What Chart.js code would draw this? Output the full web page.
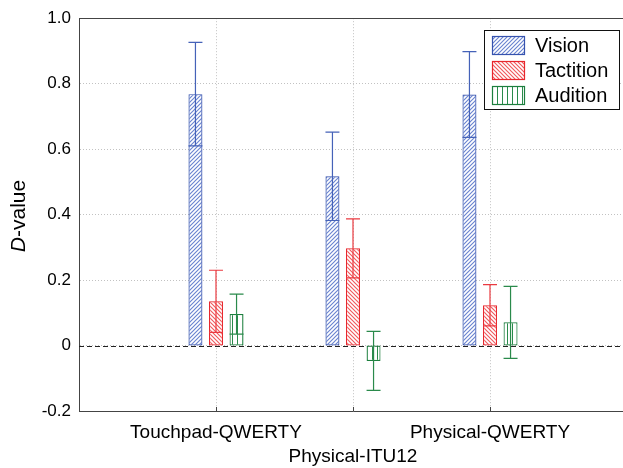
<!DOCTYPE html>
<html>
<head>
<meta charset="utf-8">
<script src="https://cdn.jsdelivr.net/npm/chart.js@4.4.1/dist/chart.umd.min.js"></script>
<style>
html,body{margin:0;padding:0;background:#fff;overflow:hidden;}
#c{display:block;}
</style>
</head>
<body>
<canvas id="c" width="627" height="468"></canvas>
<script>
// ---- data ----
const categories = ['Touchpad-QWERTY', 'Physical-ITU12', 'Physical-QWERTY'];
const seriesNames = ['Vision', 'Tactition', 'Audition'];
const visionValues = [0.768, 0.517, 0.767];
const visionErrors = [0.158, 0.135, 0.131];
const tactitionValues = [0.135, 0.297, 0.123];
const tactitionErrors = [0.095, 0.090, 0.063];
const auditionValues = [0.096, -0.047, 0.071];
const auditionErrors = [0.061, 0.090, 0.110];
const yTickLabels = ['-0.2', '0', '0.2', '0.4', '0.6', '0.8', '1.0'];

// ---- styles ----
function hatch(bg, color, dir, size, lw) {
  const c = document.createElement('canvas');
  c.width = size; c.height = size;
  const x = c.getContext('2d');
  x.fillStyle = bg; x.fillRect(0, 0, size, size);
  x.strokeStyle = color; x.lineWidth = lw; x.beginPath();
  if (dir === '/') {
    x.moveTo(0, size); x.lineTo(size, 0);
    x.moveTo(-1, 1); x.lineTo(1, -1);
    x.moveTo(size - 1, size + 1); x.lineTo(size + 1, size - 1);
  } else if (dir === '\\') {
    x.moveTo(0, 0); x.lineTo(size, size);
    x.moveTo(size - 1, -1); x.lineTo(size + 1, 1);
    x.moveTo(-1, size - 1); x.lineTo(1, size + 1);
  } else {
    x.moveTo(size / 2, 0); x.lineTo(size / 2, size);
  }
  x.stroke();
  return x.createPattern(c, 'repeat');
}
const styles = [
  {border: '#3552ae', err: '#4562b8', fill: hatch('#ffffff', '#6a84d0', '/', 4, 1.15)},
  {border: '#e8262c', err: '#ea3a40', fill: hatch('#ffffff', '#f05a5e', '\\', 4, 1.15)},
  {border: '#1d7f3e', err: '#2a8a4b', fill: hatch('#ffffff', '#2a8a4b', '|', 5, 1)}
];

const labels = ['', ...categories, ''];
const pad = arr => [null, ...arr, null];
const valueSets = [visionValues, tactitionValues, auditionValues];
const errorSets = [visionErrors, tactitionErrors, auditionErrors];

const datasets = seriesNames.map((name, i) => ({
  label: name,
  data: pad(valueSets[i]),
  errors: pad(errorSets[i]),
  backgroundColor: styles[i].fill,
  borderColor: styles[i].border,
  borderWidth: 1.2,
  borderSkipped: false,
  categoryPercentage: 0.45,
  barPercentage: 0.68
}));

const errorBars = {
  id: 'errorBars',
  afterDatasetsDraw(chart) {
    const ctx = chart.ctx, y = chart.scales.y;
    chart.data.datasets.forEach((ds, i) => {
      const meta = chart.getDatasetMeta(i);
      meta.data.forEach((bar, j) => {
        const v = ds.data[j], e = ds.errors[j];
        if (v == null || e == null) return;
        const yu = y.getPixelForValue(v + e), yl = y.getPixelForValue(v - e);
        const hw = bar.width / 2;
        ctx.save();
        ctx.strokeStyle = styles[i].err;
        ctx.lineWidth = 1.2;
        ctx.beginPath();
        ctx.moveTo(bar.x, yu); ctx.lineTo(bar.x, yl);
        ctx.moveTo(bar.x - hw, yu); ctx.lineTo(bar.x + hw, yu);
        ctx.moveTo(bar.x - hw, yl); ctx.lineTo(bar.x + hw, yl);
        ctx.stroke();
        ctx.restore();
      });
    });
  }
};

const frame = {
  id: 'frame',
  beforeDatasetsDraw(chart) {
    const {ctx, chartArea: a} = chart;
    const y0 = chart.scales.y.getPixelForValue(0);
    ctx.save();
    ctx.strokeStyle = '#222';
    ctx.lineWidth = 1;
    ctx.setLineDash([5, 3]);
    ctx.beginPath();
    ctx.moveTo(a.left, Math.round(y0) + 0.5); ctx.lineTo(a.right, Math.round(y0) + 0.5);
    ctx.stroke();
    ctx.setLineDash([]);
    ctx.strokeStyle = '#444';
    ctx.beginPath();
    ctx.moveTo(a.left, Math.round(a.top) + 0.5); ctx.lineTo(a.right, Math.round(a.top) + 0.5);
    ctx.stroke();
    // small inward tick marks on x axis
    const xs = chart.scales.x;
    for (let i = 1; i < labels.length - 1; i++) {
      const px = Math.round(xs.getPixelForValue(i)) + 0.5;
      ctx.beginPath();
      ctx.moveTo(px, a.bottom); ctx.lineTo(px, a.bottom - 4);
      ctx.stroke();
    }
    ctx.restore();
  },
  afterDraw(chart) {
    const ctx = chart.ctx;
    // y title with italic D
    ctx.save();
    ctx.translate(25, 216);
    ctx.rotate(-Math.PI / 2);
    ctx.fillStyle = '#000';
    ctx.textBaseline = 'alphabetic';
    const f1 = 'italic 21px "Liberation Sans", Arial, sans-serif';
    const f2 = '21px "Liberation Sans", Arial, sans-serif';
    ctx.font = f1; const w1 = ctx.measureText('D').width;
    ctx.font = f2; const w2 = ctx.measureText('-value').width;
    const sx = -(w1 + w2) / 2;
    ctx.font = f1; ctx.fillText('D', sx, 0);
    ctx.font = f2; ctx.fillText('-value', sx + w1, 0);
    ctx.restore();
    // legend box
    const bx = 484.5, by = 30.5, bw = 135, bh = 79;
    ctx.save();
    ctx.fillStyle = '#fff';
    ctx.fillRect(bx, by, bw, bh);
    ctx.strokeStyle = '#111';
    ctx.lineWidth = 1;
    ctx.strokeRect(bx, by, bw, bh);
    ctx.font = '20px "Liberation Sans", Arial, sans-serif';
    ctx.textBaseline = 'middle';
    chart.data.datasets.forEach((ds, i) => {
      const py = 36 + i * 25;
      ctx.fillStyle = styles[i].fill;
      ctx.fillRect(492, py, 33, 19);
      ctx.strokeStyle = styles[i].border;
      ctx.lineWidth = 1.2;
      ctx.strokeRect(492.5, py + 0.5, 32, 18);
      ctx.fillStyle = '#000';
      ctx.fillText(ds.label, 535, py + 10);
    });
    ctx.restore();
  }
};

new Chart(document.getElementById('c'), {
  type: 'bar',
  data: {labels, datasets},
  plugins: [frame, errorBars],
  options: {
    responsive: false,
    animation: false,
    layout: {padding: {top: 18, left: 0, right: 0, bottom: 0}},
    plugins: {legend: {display: false}, tooltip: {enabled: false}},
    scales: {
      x: {
        type: 'category',
        offset: false,
        grid: {color: '#c2c2c2', lineWidth: 1, drawTicks: false, offset: false},
        border: {display: true, color: '#444', width: 1, dash: [1, 2]},
        ticks: {
          autoSkip: false, maxRotation: 0, minRotation: 0, padding: 10,
          color: '#000',
          font: {family: '"Liberation Sans", Arial, sans-serif', size: 19, lineHeight: 1.25},
          callback: (v, i) => i === 2 ? ['', labels[i]] : labels[i]
        },
        afterFit: s => { s.height = 57; s.paddingLeft = 0; s.paddingRight = 0; }
      },
      y: {
        min: -0.2, max: 1.0,
        grid: {color: (c) => c.index === 6 ? 'rgba(0,0,0,0)' : '#c2c2c2', lineWidth: 1, drawTicks: false},
        border: {display: true, color: '#444', width: 1, dash: [1, 2]},
        ticks: {
          stepSize: 0.2, padding: 8, color: '#000',
          font: {family: '"Liberation Sans", Arial, sans-serif', size: 17},
          callback: (v, i) => yTickLabels[i]
        },
        afterFit: s => { s.width = 79; }
      }
    }
  }
});
</script>
</body>
</html>
